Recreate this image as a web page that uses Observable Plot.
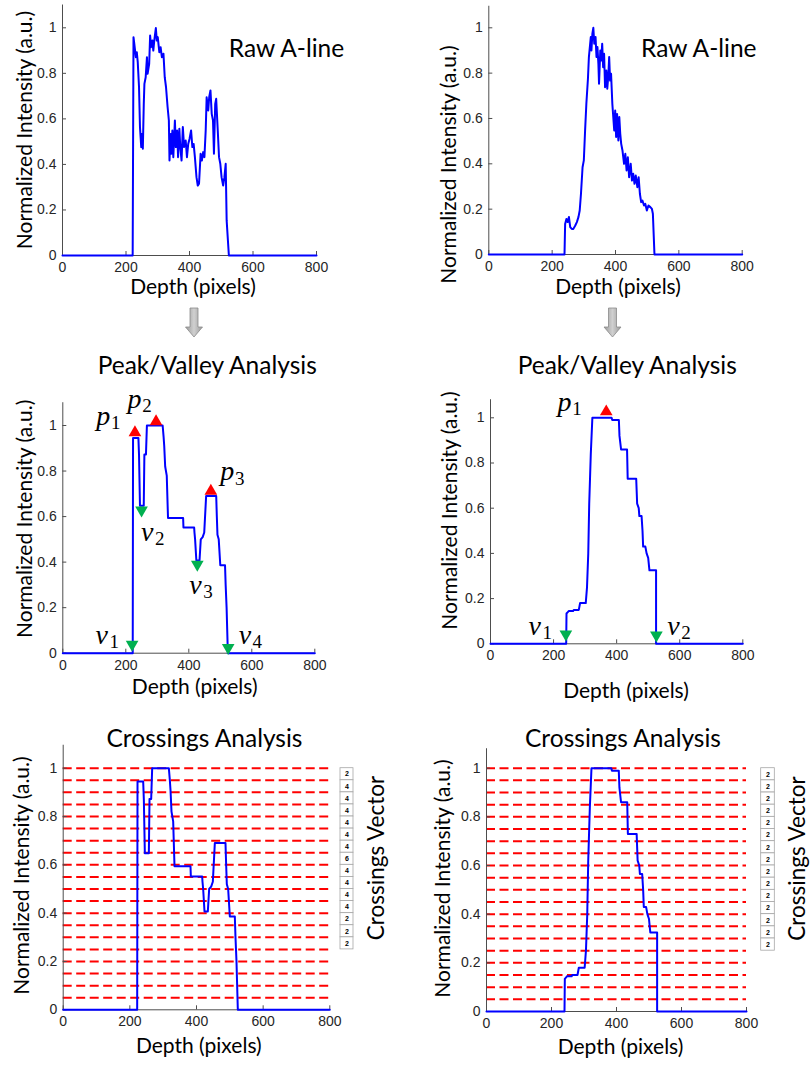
<!DOCTYPE html>
<html>
<head>
<meta charset="utf-8">
<script src="https://cdn.jsdelivr.net/npm/d3@7"></script>
<script src="https://cdn.jsdelivr.net/npm/@observablehq/plot@0.6"></script>
<style>
  html, body { margin: 0; padding: 0; background: #fff; }
  #page { position: relative; width: 811px; height: 1066px; overflow: hidden; background: #fff; }
  .panel { position: absolute; }
  .panel svg { overflow: visible; }
  #arrows { position: absolute; left: 0; top: 0; }
</style>
</head>
<body>
<div id="page">
  <svg id="arrows" width="811" height="1066"></svg>
</div>
<script>
// ---------- data ----------
const xTicks = [0, 200, 400, 600, 800];
const yTicks = [0, 0.2, 0.4, 0.6, 0.8, 1];

// Raw A-line, left sample: [depth, normalized intensity]
const rawLeft = [
  [0,0],[221,0],[223.6,0.959],[226.8,0.922],[231,0.871],[234,0.893],[237,0.849],[241,0.74],[244,0.564],
  [248,0.476],[250,0.534],[253,0.469],[256,0.666],[258,0.754],[262,0.783],[266,0.871],[268,0.798],
  [273,0.842],[276,0.966],[279,0.915],[283,0.944],[286,0.9],[289,0.944],[294,0.999],[297,0.944],
  [300,0.959],[305,0.893],[309,0.915],[313,0.871],[318,0.886],[322,0.783],[326,0.74],[331,0.652],
  [335,0.593],[337,0.417],[340,0.534],[343,0.447],[346,0.549],[349,0.432],[354,0.593],[357,0.476],
  [361,0.549],[364,0.432],[368,0.557],[371,0.476],[375,0.417],[379,0.564],[383,0.476],[388,0.505],
  [392,0.432],[396,0.49],[400,0.512],[405,0.549],[409,0.476],[413,0.49],[417,0.432],[422,0.344],
  [426,0.307],[430,0.315],[435,0.447],[439,0.417],[443,0.454],[447,0.432],[451,0.549],[454,0.695],
  [459,0.637],[462,0.695],[466,0.725],[470,0.622],[474,0.593],[477,0.447],[481,0.666],[484,0.688],
  [489,0.549],[493,0.432],[497,0.403],[501,0.344],[506,0.307],[510,0.344],[514,0.403],[517,0.154],
  [521,0.066],[524,0],[800,0]
];

// Raw A-line, right sample
const rawRight = [
  [0,0],[239,0],[241,0.135],[245,0.157],[249,0.143],[253,0.165],[257,0.121],[262,0.113],[267,0.113],
  [273,0.128],[278,0.143],[283,0.165],[287,0.194],[291,0.268],[296,0.385],[300,0.415],[304,0.547],
  [308,0.665],[313,0.775],[316,0.871],[319,0.915],[322,0.959],[324,0.9],[327,0.974],[330,1.0],
  [333,0.93],[337,0.959],[340,0.871],[343,0.915],[346,0.841],[348,0.753],[352,0.9],[355,0.856],
  [358,0.93],[361,0.826],[364,0.885],[367,0.738],[371,0.812],[374,0.731],[377,0.782],[380,0.871],
  [383,0.767],[386,0.797],[390,0.665],[393,0.606],[396,0.547],[399,0.635],[402,0.518],[405,0.62],
  [409,0.503],[412,0.606],[415,0.532],[418,0.488],[422,0.459],[427,0.4],[431,0.444],[435,0.371],
  [439,0.429],[443,0.341],[448,0.4],[452,0.326],[456,0.356],[460,0.312],[464,0.348],[469,0.297],
  [473,0.341],[477,0.268],[481,0.231],[485,0.238],[490,0.216],[494,0.224],[499,0.194],[504,0.216],
  [510,0.209],[515,0.201],[518,0.18],[523,0],[800,0]
];

// Stepped envelope used for the peak/valley and crossings analyses
const stepLeft = [
  [0,0],[222,0],[223,0.945],[240,0.945],[242,0.87],[245,0.648],[257,0.648],[259,0.873],[264,0.873],
  [267,1.0],[317,1.0],[320,0.95],[322,0.91],[325,0.82],[330,0.78],[334,0.594],[382,0.594],[383,0.552],
  [417,0.552],[418,0.53],[420,0.5],[424,0.407],[434,0.407],[438,0.5],[444,0.51],[449,0.53],[455,0.69],
  [487,0.69],[489,0.6],[491,0.52],[495,0.5],[500,0.386],[515,0.386],[517,0.3],[520,0.2],[524,0],[800,0]
];
const stepRight = [
  [0,0],[240,0],[241,0.134],[245,0.14],[248,0.145],[262,0.145],[264,0.15],[280,0.15],[284,0.18],
  [302,0.18],[306,0.25],[310,0.4],[313,0.62],[318,0.84],[323,1.0],[384,1.0],[386,0.99],[407,0.99],
  [409,0.92],[414,0.86],[433,0.86],[435,0.73],[462,0.73],[465,0.62],[470,0.6],[472,0.565],[479,0.565],
  [482,0.5],[484,0.43],[491,0.43],[495,0.4],[500,0.38],[504,0.325],[525,0.325],[525,0],[800,0]
];

// Detected extrema (marker placement) and their labels
const peaksLeft   = [[229,0.969],[296,1.017],[470,0.712]];
const valleysLeft = [[220,0.039],[250,0.628],[427,0.39],[525,0.024]];
const labelsLeft  = [
  {letter:"p", sub:"1", depth:128.6, value:1.043},
  {letter:"p", sub:"2", depth:227.6, value:1.116},
  {letter:"p", sub:"3", depth:522,   value:0.798},
  {letter:"v", sub:"1", depth:123.5, value:0.08},
  {letter:"v", sub:"2", depth:268,   value:0.534},
  {letter:"v", sub:"3", depth:421,   value:0.3},
  {letter:"v", sub:"4", depth:578,   value:0.08}
];
const peaksRight   = [[367,1.027]];
const valleysRight = [[239,0.043],[526,0.038]];
const labelsRight  = [
  {letter:"p", sub:"1", depth:235, value:1.07},
  {letter:"v", sub:"1", depth:140, value:0.077},
  {letter:"v", sub:"2", depth:580, value:0.077}
];

// Threshold levels and the number of crossings at each
const crossingLevels = [1,0.95,0.9,0.85,0.8,0.75,0.7,0.65,0.6,0.55,0.5,0.45,0.4,0.35,0.3,0.25,0.2,0.15,0.1,0.05];
const crossingsLeft  = [2,4,4,4,4,4,4,6,4,4,4,4,2,2,2];
const crossingsRight = [2,2,2,2,2,2,2,2,2,2,2,2,2,2,2];

// ---------- styles ----------
const BLUE = "#0000ff", RED = "#ff0000", GREEN = "#00b050";
const AXIS = "#4d4d4d", TICK = "#262626";
const TICK_FONT = "'Liberation Sans', Arial, sans-serif";
const LABEL_FONT = "Lato, 'Open Sans', sans-serif";
const MATH_FONT = "'Liberation Serif', 'DejaVu Serif', serif";

const triUp = {draw(ctx, size) {
  const y = -Math.sqrt(size / (3 * Math.sqrt(3)));
  ctx.moveTo(0, 2 * y); ctx.lineTo(-Math.sqrt(3) * y, -y); ctx.lineTo(Math.sqrt(3) * y, -y); ctx.closePath();
}};
const triDown = {draw(ctx, size) {
  const y = Math.sqrt(size / (3 * Math.sqrt(3)));
  ctx.moveTo(0, 2 * y); ctx.lineTo(-Math.sqrt(3) * y, -y); ctx.lineTo(Math.sqrt(3) * y, -y); ctx.closePath();
}};

// ---------- panel builder ----------
function buildPanel(cfg, content) {
  const unit = cfg.y0 - cfg.y1;                 // pixels per intensity unit
  const frameTop = cfg.y0 - cfg.yMax * unit;
  const xPerPx = 800 / (cfg.xR - cfg.xL);
  // text centred on a point given relative to the page
  const at = (px, py, str, o) => Plot.text([str], {
    frameAnchor: "top-left", textAnchor: "middle", lineAnchor: "middle",
    dx: px - cfg.xL, dy: py - frameTop, text: d => d, ...o
  });
  const parts = content(at);
  const chart = Plot.plot({
    width: cfg.width, height: cfg.height,
    marginLeft: cfg.xL - cfg.left,
    marginRight: cfg.left + cfg.width - cfg.xR,
    marginTop: frameTop - cfg.top,
    marginBottom: cfg.top + cfg.height - cfg.y0,
    x: {domain: [0, 800], axis: null},
    y: {domain: [0, cfg.yMax], axis: null},
    style: {background: "transparent", overflow: "visible"},
    marks: [
      ...(parts.under || []),
      Plot.ruleY([0], {x1: 0, x2: 800, stroke: AXIS, strokeWidth: 1}),
      Plot.ruleX([0], {y1: 0, y2: cfg.yMax, stroke: AXIS, strokeWidth: 1}),
      Plot.ruleX(xTicks, {x: d => d, y1: 0, y2: 4 / unit, stroke: AXIS, strokeWidth: 1}),
      Plot.ruleY(yTicks, {y: d => d, x1: 0, x2: 4 * xPerPx, stroke: AXIS, strokeWidth: 1}),
      Plot.text(xTicks, {x: d => d, y: 0, dy: 12, text: d => String(d), fontSize: 14, fontFamily: TICK_FONT, fill: TICK}),
      Plot.text(yTicks, {x: 0, y: d => d, dx: -6, textAnchor: "end", text: d => String(d), fontSize: 14, fontFamily: TICK_FONT, fill: TICK}),
      ...parts.marks,
      at(cfg.xlabel[0], cfg.xlabel[1], "Depth (pixels)", {fontSize: 21, fontFamily: LABEL_FONT, fill: "#000"}),
      at(cfg.ylabel[0], cfg.ylabel[1], "Normalized Intensity (a.u.)", {rotate: -90, fontSize: 21, fontFamily: LABEL_FONT, fill: "#000"}),
      at(cfg.title[0], cfg.title[1], cfg.titleText, {fontSize: 24.5, fontFamily: LABEL_FONT, fill: "#000"})
    ]
  });
  const div = document.createElement("div");
  div.className = "panel";
  div.style.left = cfg.left + "px";
  div.style.top = cfg.top + "px";
  div.appendChild(chart);
  document.getElementById("page").appendChild(div);
}

const curve = (data) => Plot.line(data, {x: d => d[0], y: d => d[1], stroke: BLUE, strokeWidth: 2});

function extremaMarks(peaks, valleys, labels) {
  return [
    Plot.dot(peaks, {x: d => d[0], y: d => d[1], symbol: triUp, r: 4.7, fill: RED}),
    Plot.dot(valleys, {x: d => d[0], y: d => d[1], symbol: triDown, r: 4.7, fill: GREEN}),
    Plot.text(labels, {x: "depth", y: "value", text: "letter", fontSize: 28, fontStyle: "italic", fontFamily: MATH_FONT, fill: "#000"}),
    Plot.text(labels, {x: "depth", y: "value", text: "sub", dx: 12.5, dy: 7, fontSize: 19, fontFamily: MATH_FONT, fill: "#000"})
  ];
}

function crossingMarks(counts, vx1, vx2, at, labelPos) {
  const cx = (vx1 + vx2) / 2;
  return {
    under: [
      Plot.ruleY(crossingLevels, {y: d => d, x1: 0, x2: 800, stroke: RED, strokeWidth: 2, strokeDasharray: "9,4.5"})
    ],
    extra: [
      Plot.rect(counts, {x1: vx1, x2: vx2, y1: (d, i) => 1 - 0.05 * (i + 1), y2: (d, i) => 1 - 0.05 * i,
        fill: "#fff", stroke: "#a6a6a6", strokeWidth: 0.8}),
      Plot.text(counts, {x: cx, y: (d, i) => 1 - 0.05 * i - 0.025, text: d => String(d),
        fontSize: 7, fontWeight: "bold", fontFamily: TICK_FONT, fill: "#000"}),
      at(labelPos[0], labelPos[1], "Crossings Vector", {rotate: -90, fontSize: 22.5, fontFamily: LABEL_FONT, fill: "#000"})
    ]
  };
}

// ---------- panels ----------
buildPanel({left: 0, top: 0, width: 400, height: 305, xL: 62, xR: 316, y0: 255, y1: 27.3, yMax: 1.1,
  title: [286, 49], titleText: "Raw A-line", xlabel: [192.5, 287.2], ylabel: [25, 129.5]},
  () => ({marks: [curve(rawLeft)]}));

buildPanel({left: 400, top: 0, width: 411, height: 305, xL: 488.3, xR: 741.7, y0: 254, y1: 27.3, yMax: 1.095,
  title: [698.3, 49], titleText: "Raw A-line", xlabel: [617.5, 287.2], ylabel: [449, 164]},
  () => ({marks: [curve(rawRight)]}));

buildPanel({left: 0, top: 305, width: 400, height: 400, xL: 62.3, xR: 314.3, y0: 652.7, y1: 425, yMax: 1.1,
  title: [206.7, 365.3], titleText: "Peak/Valley Analysis", xlabel: [194.2, 687], ylabel: [25, 518.3]},
  () => ({marks: [curve(stepLeft), ...extremaMarks(peaksLeft, valleysLeft, labelsLeft)]}));

buildPanel({left: 400, top: 305, width: 411, height: 400, xL: 490, xR: 742.3, y0: 643.3, y1: 417.3, yMax: 1.08,
  title: [626.7, 365.3], titleText: "Peak/Valley Analysis", xlabel: [625.5, 691], ylabel: [450, 510]},
  () => ({marks: [curve(stepRight), ...extremaMarks(peaksRight, valleysRight, labelsRight)]}));

buildPanel({left: 0, top: 705, width: 400, height: 361, xL: 62.7, xR: 329.3, y0: 1009.3, y1: 767.7, yMax: 1.095,
  title: [204, 739], titleText: "Crossings Analysis", xlabel: [198.3, 1045.6], ylabel: [22, 875]},
  (at) => {
    const c = crossingMarks(crossingsLeft, 832.1, 871.1, at, [376.5, 857.5]);
    return {under: c.under, marks: [curve(stepLeft), ...c.extra]};
  });

buildPanel({left: 400, top: 705, width: 411, height: 361, xL: 486, xR: 746, y0: 1011, y1: 767.7, yMax: 1.08,
  title: [622.5, 739], titleText: "Crossings Analysis", xlabel: [620, 1047], ylabel: [443, 878]},
  (at) => {
    const c = crossingMarks(crossingsRight, 845.2, 887.1, at, [797, 858]);
    return {under: c.under, marks: [curve(stepRight), ...c.extra]};
  });

// ---------- down arrows between the raw and analysis rows ----------
const arrowSvg = d3.select("#arrows");
const grad = arrowSvg.append("defs").append("linearGradient").attr("id", "arrowFill")
  .attr("x1", 0).attr("x2", 1).attr("y1", 0).attr("y2", 0);
grad.append("stop").attr("offset", "0%").attr("stop-color", "#9a9a9a");
grad.append("stop").attr("offset", "50%").attr("stop-color", "#d0d0d0");
grad.append("stop").attr("offset", "100%").attr("stop-color", "#9a9a9a");
for (const cx of [194, 612.5]) {
  const top = 308, neck = 327, tip = 337;
  arrowSvg.append("path")
    .attr("d", `M${cx - 4},${top}H${cx + 4}V${neck}H${cx + 8.5}L${cx},${tip}L${cx - 8.5},${neck}H${cx - 4}Z`)
    .attr("fill", "url(#arrowFill)").attr("stroke", "#8a8a8a").attr("stroke-width", 0.8);
}
</script>
</body>
</html>
